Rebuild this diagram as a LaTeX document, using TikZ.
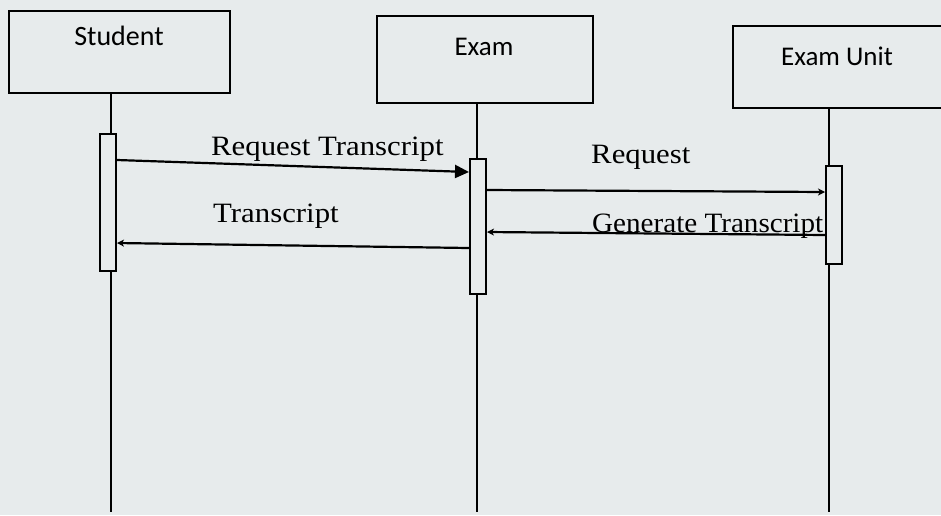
\documentclass[tikz,border=0pt]{standalone}
\usepackage{fontspec}
\setmainfont{Liberation Serif}[FakeStretch=1.1]
\newfontfamily\narrowserif{Liberation Serif}[FakeStretch=1.04]
\newfontfamily\boxfont{Carlito}
\usetikzlibrary{arrows.meta}
\definecolor{paper}{RGB}{231,235,236}
\tikzset{
  x=1pt, y=-1pt,
  actor/.style={draw=black, line width=2.4pt, fill=paper, minimum width=#1, inner sep=0pt, anchor=north west},
  actorlabel/.style={font=\boxfont\fontsize{27}{32}\selectfont, anchor=base, inner sep=0pt},
  activation/.style={draw=black, line width=2pt, fill=paper, minimum width=16pt, inner sep=0pt, anchor=north},
  lifeline/.style={draw=black, line width=2.2pt},
  msg/.style={draw=black, line width=2.2pt},
  msglabel/.style={font=\fontsize{28}{33}\selectfont, anchor=base west, inner sep=0pt},
  bigtip/.style={-{Triangle[length=14pt,width=13pt]}},
  smalltip/.style={-{Stealth[length=7pt,width=7pt,inset=2pt]}},
}
\begin{document}
\begin{tikzpicture}
\fill[paper] (0,0) rectangle (941,515);
\useasboundingbox (0,0) rectangle (941,515);

% actor boxes
\node[actor=221pt, minimum height=82pt] (student) at (8,10) {};
\node[actor=216pt, minimum height=87pt] (exam) at (376,15) {};
\node[actor=210pt, minimum height=82pt] (unit) at (732,25) {};
\node[actorlabel, font=\boxfont\fontsize{28}{33}\selectfont] (lstudent) at (119,45) {Student};
\node[actorlabel] (lexam) at (484,55) {Exam};
\node[actorlabel] (lunit) at (837,65) {Exam Unit};

% lifeline ends
\coordinate (sb) at (111,92);
\coordinate (se) at (111,512);
\coordinate (eb) at (477,102);
\coordinate (ee) at (477,512);
\coordinate (ub) at (829,107);
\coordinate (ue) at (829,512);

% lifelines
\draw[lifeline] (sb) -- (se);
\draw[lifeline] (eb) -- (ee);
\draw[lifeline] (ub) -- (ue);

% activations
\node[activation, minimum height=137pt] (astudent) at (108,133) {};
\node[activation, minimum height=135pt] (aexam) at (478,158) {};

% messages
\draw[msg, bigtip] (astudent.east |- 0,160) -- (aexam.west |- 0,172);
\draw[msg, smalltip] (aexam.west |- 0,248) -- (astudent.east |- 0,243);

% message labels
\node[msglabel] (l1) at (211,155) {Request Transcript};
\node[msglabel] (l2) at (213,222) {Transcript};
\node[msglabel] (l3) at (591,163) {Request};
\node[msglabel, font=\narrowserif\fontsize{28}{33}\selectfont] (l4) at (592,232) {Generate Transcript};

% exam unit activation drawn over the label's end
\node[activation, minimum height=98pt] (aunit) at (834,165) {};
\draw[msg, smalltip] (aexam.east |- 0,190) -- (aunit.west |- 0,192);
\draw[msg, smalltip] (aunit.west |- 0,235) -- (aexam.east |- 0,232);
\end{tikzpicture}
\end{document}
